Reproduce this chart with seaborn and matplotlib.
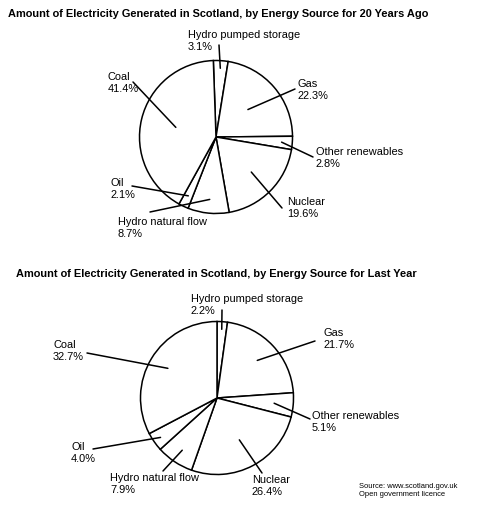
import numpy as np
import matplotlib
matplotlib.use("Agg")
import matplotlib.pyplot as plt
import seaborn as sns

# data
sources = ["Hydro pumped storage", "Gas", "Other renewables", "Nuclear",
           "Hydro natural flow", "Oil", "Coal"]
share_20_years_ago = [3.1, 22.3, 2.8, 19.6, 8.7, 2.1, 41.4]
share_last_year = [2.2, 21.7, 5.1, 26.4, 7.9, 4.0, 32.7]
title_old = "Amount of Electricity Generated in Scotland, by Energy Source for 20 Years Ago"
title_new = "Amount of Electricity Generated in Scotland, by Energy Source for Last Year"
source_note = "Source: www.scotland.gov.uk\nOpen government licence"

sns.set_theme(style="white")
plt.rcParams["font.family"] = ["Liberation Sans", "DejaVu Sans"]
plt.rcParams["text.color"] = "black"

W, H = 481, 512
R = 76.5  # pie radius in pixels
fig = plt.figure(figsize=(W / 100, H / 100), dpi=100)

# layout in image pixels: label (left x, centre y), leader outer end, leader depth in wedge
layout_old = {
    "centre": (216, 137), "title": (8, 14), "start": 92,
    "text": [(188, 41), (298, 90), (316, 158), (287, 208), (118, 228), (111, 189), (108, 83)],
    "lead": [(219, 45), (295, 89), (313, 157), (282, 208), (150, 212), (132, 186), (133, 82)],
    "depth": [0.9, 0.55, 0.86, 0.65, 0.82, 0.85, 0.54],
}
layout_new = {
    "centre": (217, 398), "title": (16, 274), "start": 90,
    "text": [(191, 305), (324, 339), (312, 422), (252, 486), (110, 484), (71, 453), (53, 351)],
    "lead": [(222, 310), (315, 341), (310, 419), (262, 473), (163, 471), (93, 449), (87, 353)],
    "depth": [0.9, 0.72, 0.75, 0.62, 0.82, 0.9, 0.75],
}


def draw_panel(top, height, values, title, lay):
    cx, cy = lay["centre"]
    ax = fig.add_axes([0, 1 - (top + height) / H, 1, height / H])

    def to_data(x, y):
        return (x - cx) / R, (cy - y) / R

    wedges, _ = ax.pie(values, startangle=lay["start"], counterclock=False,
                       radius=1, center=(0, 0),
                       wedgeprops=dict(facecolor="white", edgecolor="black", linewidth=1.1))
    ax.set_xlim(-cx / R, (W - cx) / R)
    ax.set_ylim(-(top + height - cy) / R, (cy - top) / R)
    ax.set_aspect("equal", adjustable="box")
    ax.axis("off")

    tx, ty = to_data(*lay["title"])
    ax.text(tx, ty, title, ha="left", va="center", fontsize=7.95, fontweight="bold")

    for w, name, val, tpos, lpos, d in zip(wedges, sources, values,
                                           lay["text"], lay["lead"], lay["depth"]):
        mid = np.deg2rad((w.theta1 + w.theta2) / 2)
        ix, iy = d * np.cos(mid), d * np.sin(mid)
        ox, oy = to_data(*lpos)
        ax.plot([ox, ix], [oy, iy], color="black", linewidth=1.1)
        lx, ly = to_data(*tpos)
        ax.text(lx, ly, f"{name}\n{val:.1f}%", ha="left", va="center",
                fontsize=7.9, linespacing=1.25)
    return ax


draw_panel(0, 256, share_20_years_ago, title_old, layout_old)
draw_panel(256, 256, share_last_year, title_new, layout_new)

fig.text(359 / W, 1 - 490.5 / H, source_note, ha="left", va="center",
         fontsize=5.4, linespacing=1.3)

fig.savefig("out.png", dpi=100, facecolor="white")
